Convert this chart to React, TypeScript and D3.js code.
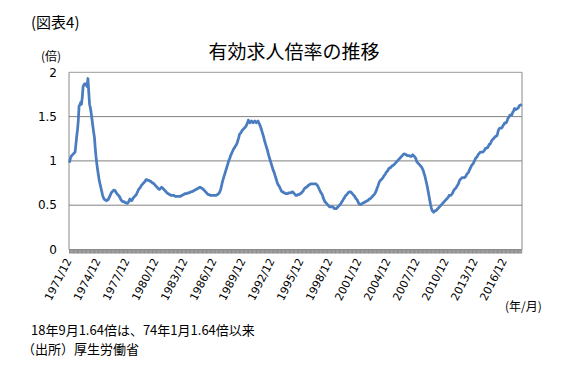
import React from "react";
import * as d3 from "d3";

// Monthly values, 1971/12 .. 2018/09 (seasonally adjusted)
const y1971 = [0.98];
const y1972 = [1.02, 1.05, 1.06, 1.07, 1.08, 1.09, 1.10, 1.18, 1.27, 1.35, 1.45, 1.62];
const y1973 = [1.63, 1.66, 1.64, 1.72, 1.84, 1.86, 1.87, 1.86, 1.87, 1.84, 1.93, 1.78];
const y1974 = [1.64, 1.60, 1.54, 1.47, 1.40, 1.33, 1.27, 1.15, 1.05, 0.97, 0.90, 0.84];
const y1975 = [0.78, 0.74, 0.70, 0.66, 0.62, 0.59, 0.57, 0.56, 0.56, 0.55, 0.56, 0.56];
const y1976 = [0.58, 0.60, 0.62, 0.64, 0.65, 0.66, 0.67, 0.67, 0.66, 0.64, 0.63, 0.62];
const y1977 = [0.61, 0.60, 0.58, 0.56, 0.55, 0.54, 0.54, 0.54, 0.53, 0.53, 0.52, 0.52];
const y1978 = [0.53, 0.55, 0.57, 0.56, 0.55, 0.56, 0.58, 0.59, 0.60, 0.61, 0.62, 0.64];
const y1979 = [0.66, 0.68, 0.69, 0.70, 0.72, 0.73, 0.74, 0.75, 0.76, 0.77, 0.79, 0.79];
const y1980 = [0.78, 0.78, 0.78, 0.77, 0.77, 0.76, 0.75, 0.75, 0.74, 0.73, 0.72, 0.71];
const y1981 = [0.70, 0.69, 0.68, 0.68, 0.69, 0.70, 0.70, 0.69, 0.68, 0.67, 0.66, 0.65];
const y1982 = [0.64, 0.63, 0.63, 0.62, 0.62, 0.61, 0.61, 0.61, 0.61, 0.61, 0.60, 0.60];
const y1983 = [0.60, 0.60, 0.60, 0.60, 0.60, 0.60, 0.61, 0.61, 0.62, 0.62, 0.63, 0.63];
const y1984 = [0.63, 0.63, 0.64, 0.64, 0.64, 0.65, 0.65, 0.65, 0.66, 0.66, 0.67, 0.67];
const y1985 = [0.68, 0.68, 0.69, 0.69, 0.70, 0.70, 0.70, 0.69, 0.69, 0.68, 0.67, 0.66];
const y1986 = [0.65, 0.64, 0.63, 0.62, 0.62, 0.62, 0.61, 0.61, 0.61, 0.61, 0.61, 0.61];
const y1987 = [0.61, 0.61, 0.62, 0.62, 0.63, 0.64, 0.66, 0.69, 0.73, 0.77, 0.80, 0.83];
const y1988 = [0.86, 0.89, 0.92, 0.95, 0.98, 1.01, 1.03, 1.06, 1.08, 1.10, 1.12, 1.14];
const y1989 = [1.15, 1.17, 1.18, 1.20, 1.23, 1.26, 1.30, 1.31, 1.32, 1.34, 1.35, 1.36];
const y1990 = [1.37, 1.38, 1.39, 1.41, 1.43, 1.46, 1.44, 1.43, 1.44, 1.45, 1.44, 1.43];
const y1991 = [1.44, 1.45, 1.44, 1.43, 1.44, 1.45, 1.43, 1.41, 1.39, 1.36, 1.33, 1.30];
const y1992 = [1.27, 1.23, 1.20, 1.17, 1.14, 1.11, 1.07, 1.04, 1.01, 0.98, 0.95, 0.92];
const y1993 = [0.89, 0.87, 0.84, 0.81, 0.78, 0.75, 0.73, 0.72, 0.70, 0.68, 0.66, 0.65];
const y1994 = [0.65, 0.64, 0.64, 0.63, 0.63, 0.63, 0.63, 0.64, 0.64, 0.64, 0.64, 0.65];
const y1995 = [0.65, 0.64, 0.63, 0.62, 0.61, 0.61, 0.62, 0.62, 0.62, 0.63, 0.63, 0.64];
const y1996 = [0.65, 0.66, 0.68, 0.69, 0.70, 0.70, 0.71, 0.72, 0.73, 0.73, 0.74, 0.74];
const y1997 = [0.74, 0.74, 0.74, 0.74, 0.74, 0.74, 0.73, 0.72, 0.70, 0.68, 0.66, 0.64];
const y1998 = [0.63, 0.61, 0.58, 0.56, 0.54, 0.53, 0.52, 0.51, 0.50, 0.49, 0.48, 0.48];
const y1999 = [0.48, 0.48, 0.48, 0.47, 0.46, 0.46, 0.46, 0.47, 0.48, 0.49, 0.50, 0.51];
const y2000 = [0.52, 0.54, 0.55, 0.57, 0.58, 0.60, 0.61, 0.62, 0.63, 0.64, 0.65, 0.65];
const y2001 = [0.65, 0.64, 0.63, 0.62, 0.61, 0.60, 0.58, 0.57, 0.56, 0.54, 0.52, 0.51];
const y2002 = [0.51, 0.51, 0.52, 0.52, 0.53, 0.53, 0.54, 0.54, 0.55, 0.55, 0.56, 0.57];
const y2003 = [0.57, 0.58, 0.59, 0.60, 0.61, 0.62, 0.63, 0.65, 0.67, 0.70, 0.72, 0.75];
const y2004 = [0.77, 0.78, 0.79, 0.80, 0.81, 0.83, 0.84, 0.85, 0.87, 0.88, 0.89, 0.91];
const y2005 = [0.92, 0.92, 0.93, 0.94, 0.95, 0.95, 0.96, 0.97, 0.98, 0.99, 1.00, 1.01];
const y2006 = [1.02, 1.03, 1.04, 1.05, 1.06, 1.07, 1.08, 1.08, 1.07, 1.07, 1.06, 1.06];
const y2007 = [1.06, 1.06, 1.05, 1.05, 1.06, 1.07, 1.06, 1.05, 1.04, 1.02, 0.99, 0.98];
const y2008 = [0.97, 0.96, 0.95, 0.94, 0.93, 0.91, 0.89, 0.86, 0.83, 0.79, 0.75, 0.71];
const y2009 = [0.66, 0.61, 0.56, 0.51, 0.47, 0.44, 0.43, 0.42, 0.43, 0.44, 0.44, 0.45];
const y2010 = [0.46, 0.47, 0.48, 0.49, 0.50, 0.51, 0.52, 0.53, 0.54, 0.55, 0.56, 0.57];
const y2011 = [0.58, 0.59, 0.61, 0.61, 0.61, 0.62, 0.63, 0.65, 0.67, 0.68, 0.69, 0.70];
const y2012 = [0.72, 0.73, 0.75, 0.78, 0.79, 0.80, 0.81, 0.81, 0.81, 0.81, 0.82, 0.83];
const y2013 = [0.85, 0.86, 0.87, 0.89, 0.91, 0.93, 0.95, 0.96, 0.97, 0.99, 1.01, 1.03];
const y2014 = [1.04, 1.05, 1.07, 1.08, 1.09, 1.10, 1.10, 1.10, 1.10, 1.11, 1.12, 1.14];
const y2015 = [1.14, 1.15, 1.15, 1.17, 1.19, 1.19, 1.21, 1.23, 1.24, 1.25, 1.26, 1.27];
const y2016 = [1.28, 1.28, 1.30, 1.34, 1.36, 1.37, 1.37, 1.37, 1.38, 1.40, 1.41, 1.43];
const y2017 = [1.43, 1.43, 1.45, 1.48, 1.49, 1.51, 1.52, 1.52, 1.52, 1.55, 1.56, 1.59];
const y2018 = [1.59, 1.58, 1.59, 1.59, 1.60, 1.62, 1.63, 1.63, 1.64];

const yearlyValues = [
  y1971, y1972, y1973, y1974, y1975, y1976, y1977, y1978, y1979, y1980,
  y1981, y1982, y1983, y1984, y1985, y1986, y1987, y1988, y1989, y1990,
  y1991, y1992, y1993, y1994, y1995, y1996, y1997, y1998, y1999, y2000,
  y2001, y2002, y2003, y2004, y2005, y2006, y2007, y2008, y2009, y2010,
  y2011, y2012, y2013, y2014, y2015, y2016, y2017, y2018,
];

const yTicks = [0, 0.5, 1, 1.5, 2];
const xTickLabels = [
  "1971/12", "1974/12", "1977/12", "1980/12", "1983/12", "1986/12",
  "1989/12", "1992/12", "1995/12", "1998/12", "2001/12", "2004/12",
  "2007/12", "2010/12", "2013/12", "2016/12",
];

// Build month categories
type Pt = { label: string; value: number };
const data: Pt[] = [];
yearlyValues.forEach((vals, yi) => {
  const year = 1971 + yi;
  const startMonth = yi === 0 ? 12 : 1;
  vals.forEach((v, k) => {
    data.push({ label: `${year}/${startMonth + k}`, value: v });
  });
});

const W = 582;
const H = 386;
const left = 69;
const right = 522;
const top = 72.3;
const bottom = 249.5;

export default function App() {
  const x = d3.scaleBand<string>().domain(data.map((d) => d.label)).range([left, right]).padding(0);
  const y = d3.scaleLinear().domain([0, 2]).range([bottom, top]);
  const bw = x.bandwidth();
  const line = d3
    .line<Pt>()
    .x((d) => (x(d.label) as number) + bw / 2)
    .y((d) => y(d.value))
    .curve(d3.curveLinear);

  const jp = "'Noto Sans CJK JP', 'Noto Sans', sans-serif";
  const num = "'DejaVu Sans', Verdana, sans-serif";

  return (
    <svg width={W} height={H} style={{ position: "absolute", left: 0, top: 0, background: "#fff" }}>
      <rect x={0} y={0} width={W} height={H} fill="#fff" />
      <text x={31} y={28} fontFamily={jp} fontSize={15} fill="#000">(図表4)</text>
      <text x={294} y={59} textAnchor="middle" fontFamily={jp} fontSize={19} fill="#000">有効求人倍率の推移</text>
      <text x={41} y={61} fontFamily={jp} fontSize={12} fill="#000">(倍)</text>

      {/* grid lines */}
      {yTicks.filter((t) => t > 0 && t < 2).map((t) => (
        <line key={t} x1={left} x2={right} y1={y(t)} y2={y(t)} stroke="#808080" strokeWidth={1} />
      ))}
      {/* plot frame */}
      <line x1={left} x2={right} y1={y(2)} y2={y(2)} stroke="#9a9a9a" strokeWidth={1} />
      <line x1={left} x2={left} y1={y(2)} y2={bottom} stroke="#8a8a8a" strokeWidth={1} />
      <line x1={right} x2={right} y1={y(2)} y2={bottom} stroke="#8a8a8a" strokeWidth={1} />

      {/* monthly ticks forming the axis band */}
      {data.map((d) => (
        <line
          key={"t" + d.label}
          x1={(x(d.label) as number) + 0.5}
          x2={(x(d.label) as number) + 0.5}
          y1={bottom}
          y2={bottom + 4}
          stroke="#8c8c8c"
          strokeWidth={1}
        />
      ))}
      <line x1={left} x2={right} y1={bottom} y2={bottom} stroke="#8a8a8a" strokeWidth={1} />

      {/* y tick labels */}
      {yTicks.map((t) => (
        <text key={"y" + t} x={57} y={y(t)} dy="0.35em" textAnchor="end" fontFamily={num} fontSize={12} fill="#000">
          {t}
        </text>
      ))}

      {/* x tick labels */}
      {xTickLabels.map((lab) => {
        const xc = (x(lab) as number) + bw / 2;
        return (
          <text
            key={lab}
            transform={`translate(${xc - 1},${259}) rotate(-63)`}
            dy="0.35em"
            textAnchor="end"
            fontFamily={num}
            fontSize={11}
            fill="#000"
          >
            {lab}
          </text>
        );
      })}
      <text x={505} y={311} fontFamily={jp} fontSize={12} fill="#000">(年/月)</text>

      {/* series */}
      <path d={line(data) ?? ""} fill="none" stroke="#4a7cc0" strokeWidth={2.75} strokeLinejoin="round" />

      <text x={31} y={335} fontFamily={jp} fontSize={13} fill="#000">18年9月1.64倍は、74年1月1.64倍以来</text>
      <text x={22} y={354} fontFamily={jp} fontSize={13} fill="#000">（出所）厚生労働省</text>
    </svg>
  );
}
